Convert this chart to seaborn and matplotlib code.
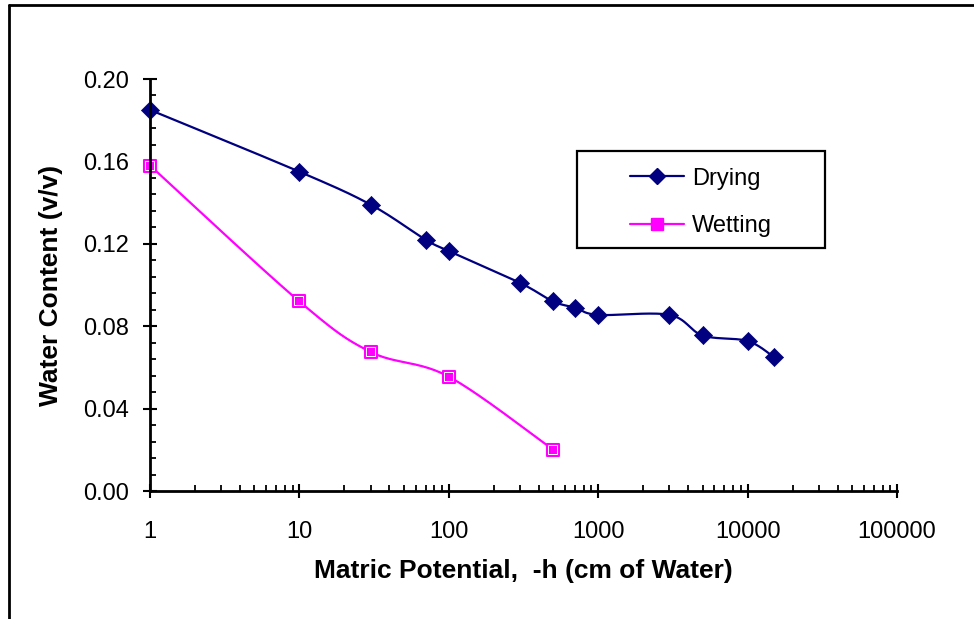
import numpy as np
import pandas as pd
import matplotlib
matplotlib.use("Agg")
import matplotlib.pyplot as plt
import seaborn as sns
from matplotlib.lines import Line2D
from matplotlib.patches import Rectangle
from matplotlib.ticker import LogLocator, FixedLocator, MultipleLocator

# Soil water retention data
drying_h = [1, 10, 30, 70, 100, 300, 500, 700, 1000, 3000, 5000, 10000, 15000]
drying_theta = [0.185, 0.155, 0.139, 0.122, 0.1165, 0.101, 0.092, 0.089, 0.0855, 0.0855, 0.0755, 0.0728, 0.065]

wetting_h = [1, 10, 30, 100, 500]
wetting_theta = [0.158, 0.092, 0.0675, 0.0555, 0.020]

x_ticks = [1, 10, 100, 1000, 10000, 100000]
x_tick_labels = ["1", "10", "100", "1000", "10000", "100000"]
y_ticks = [0.00, 0.04, 0.08, 0.12, 0.16, 0.20]
y_tick_labels = ["0.00", "0.04", "0.08", "0.12", "0.16", "0.20"]

DRY_COLOR = "#000080"
WET_COLOR = "#FF00FF"

sns.set_style("white")
plt.rcParams["font.family"] = ["Liberation Sans", "DejaVu Sans"]


def smooth_curve(h, theta, n=40):
    """Smoothed Bezier path through the points in (log h, theta) space,
    scaled so both directions have comparable on-screen units."""
    sx, sy = 149.4, 2060.0
    u = np.log10(np.asarray(h, float)) * sx
    v = np.asarray(theta, float) * sy
    P = np.column_stack([u, v])
    P = np.vstack([P[0], P, P[-1]])
    out = []
    t = np.linspace(0, 1, n, endpoint=False)
    for i in range(1, len(P) - 2):
        p0, p1, p2, p3 = P[i - 1], P[i], P[i + 1], P[i + 2]
        c1 = p1 + (p2 - p0) / 6.0
        c2 = p2 - (p3 - p1) / 6.0
        tt = t[:, None]
        seg = ((1 - tt) ** 3) * p1 + 3 * ((1 - tt) ** 2) * tt * c1 + 3 * (1 - tt) * tt ** 2 * c2 + tt ** 3 * p2
        out.append(seg)
    out.append(P[-2][None, :])
    out = np.vstack(out)
    return 10 ** (out[:, 0] / sx), out[:, 1] / sy


fig = plt.figure(figsize=(9.74, 6.19), dpi=100)
ax = fig.add_axes([150 / 974, 1 - 491 / 619, (897 - 150) / 974, (491 - 79) / 619])

dry_x, dry_y = smooth_curve(drying_h, drying_theta)
wet_x, wet_y = smooth_curve(wetting_h, wetting_theta)
curves = pd.concat([
    pd.DataFrame({"h": dry_x, "theta": dry_y, "series": "Drying"}),
    pd.DataFrame({"h": wet_x, "theta": wet_y, "series": "Wetting"}),
])
sns.lineplot(data=curves, x="h", y="theta", hue="series", sort=False, estimator=None,
             palette={"Drying": DRY_COLOR, "Wetting": WET_COLOR}, linewidth=1.6,
             legend=False, ax=ax)

dry_pts = pd.DataFrame({"h": drying_h, "theta": drying_theta})
wet_pts = pd.DataFrame({"h": wetting_h, "theta": wetting_theta})
sns.scatterplot(data=dry_pts, x="h", y="theta", marker="D", s=85, color=DRY_COLOR,
                edgecolor=DRY_COLOR, linewidth=0.5, ax=ax, zorder=5, clip_on=False)
sns.scatterplot(data=wet_pts, x="h", y="theta", marker="s", s=80, color="white",
                edgecolor=WET_COLOR, linewidth=1.5, ax=ax, zorder=5, clip_on=False)
sns.scatterplot(data=wet_pts, x="h", y="theta", marker="s", s=40, color=WET_COLOR,
                edgecolor=WET_COLOR, linewidth=0, ax=ax, zorder=6, clip_on=False)

ax.set_xscale("log")
ax.set_xlim(1, 100000)
ax.set_ylim(0, 0.20)

ax.xaxis.set_major_locator(FixedLocator(x_ticks))
ax.set_xticklabels(x_tick_labels)
ax.xaxis.set_minor_locator(LogLocator(base=10, subs=np.arange(2, 10), numticks=20))
ax.yaxis.set_major_locator(FixedLocator(y_ticks))
ax.set_yticklabels(y_tick_labels)
ax.yaxis.set_minor_locator(MultipleLocator(0.008))

ax.tick_params(axis="both", which="both", bottom=True, left=True, top=False, right=False)
ax.tick_params(axis="both", which="major", direction="inout", length=10.5, width=1.5,
               color="black", labelsize=17, labelcolor="black")
ax.tick_params(axis="both", which="minor", direction="in", length=4.5, width=1.3,
               color="black")
ax.tick_params(axis="x", which="major", pad=16)
ax.tick_params(axis="y", which="major", pad=10)

for side in ("top", "right"):
    ax.spines[side].set_visible(False)
for side in ("left", "bottom"):
    ax.spines[side].set_linewidth(2.0)
    ax.spines[side].set_color("black")
    ax.spines[side].set_zorder(10)

ax.set_xlabel("Matric Potential,  -h (cm of Water)", fontsize=19, fontweight="bold",
              color="black")
ax.set_ylabel("Water Content (v/v)", fontsize=19, fontweight="bold", color="black")
ax.xaxis.set_label_coords(0.5, -(559 - 491) / 412)
ax.yaxis.set_label_coords(-(150 - 63) / 747, 0.5)

# Legend: content centred inside a square-cornered box
box_l, box_r, box_t, box_b = 577, 825, 151, 248
to_ax_x = lambda px: (px - 150) / 747
to_ax_y = lambda py: (491 - py) / 412
handles = [
    Line2D([0], [0], color=DRY_COLOR, lw=1.6, marker="D", markersize=8.5,
           markerfacecolor=DRY_COLOR, markeredgecolor=DRY_COLOR),
    Line2D([0], [0], color=WET_COLOR, lw=1.6, marker="s", markersize=8,
           markerfacecolor=WET_COLOR, markeredgecolor=WET_COLOR),
]
leg = ax.legend(handles, ["Drying", "Wetting"], loc="center",
                bbox_to_anchor=(to_ax_x((box_l + box_r) / 2), to_ax_y((box_t + box_b) / 2 + 3)),
                frameon=False, fontsize=17, handlelength=2.3, handletextpad=0.35,
                labelspacing=1.08, borderpad=0, borderaxespad=0)
for txt in leg.get_texts():
    txt.set_color("black")
ax.add_patch(Rectangle((to_ax_x(box_l), to_ax_y(box_b)),
                       to_ax_x(box_r) - to_ax_x(box_l), to_ax_y(box_t) - to_ax_y(box_b),
                       transform=ax.transAxes, fill=False, edgecolor="black",
                       linewidth=1.6, zorder=8, clip_on=False))

# Outer chart frame
fig.add_artist(Line2D([9 / 974, 9 / 974], [0, 1 - 5 / 619], color="black", lw=2,
                      transform=fig.transFigure))
fig.add_artist(Line2D([9 / 974, 1.0], [1 - 5 / 619, 1 - 5 / 619], color="black", lw=2,
                      transform=fig.transFigure))

fig.savefig("out.png", dpi=100, facecolor="white")
